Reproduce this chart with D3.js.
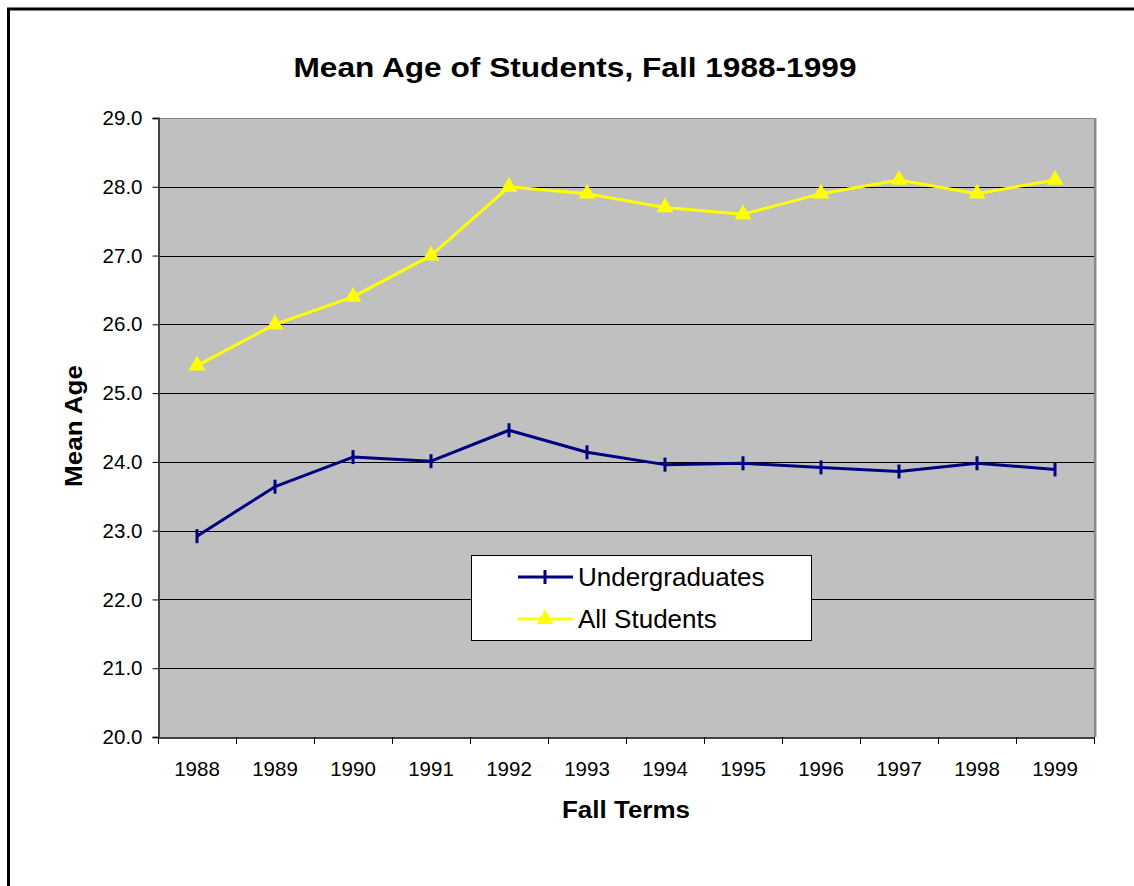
<!DOCTYPE html>
<html><head><meta charset="utf-8">
<script src="https://cdn.jsdelivr.net/npm/d3@7"></script>
<style>body{margin:0;background:#fff}svg{display:block;font-family:Arial,"Liberation Sans",sans-serif}</style>
</head><body><svg id="c" width="1134" height="886"></svg>
<script>
const years = ["1988","1989","1990","1991","1992","1993","1994","1995","1996","1997","1998","1999"];
const undergraduates = [22.92,23.64,24.07,24.01,24.46,24.14,23.96,23.98,23.92,23.86,23.98,23.89];
const allStudents = [25.4,26.0,26.4,27.0,28.0,27.9,27.7,27.6,27.9,28.1,27.9,28.1];
const yTicks = [20,21,22,23,24,25,26,27,28,29];
const seriesNames = ["Undergraduates","All Students"];

const svg = d3.select("#c");
const L=158,R=1094,T=118,B=737;
const x = d3.scaleBand().domain(years).range([L,R]).padding(0);
const y = d3.scaleLinear().domain([20,29]).range([B,T]);
const cx = d => x(d)+x.bandwidth()/2;

// outer border
svg.append("rect").attr("x",8.5).attr("y",9).attr("width",1200).attr("height",1000)
  .attr("fill","none").attr("stroke","#000").attr("stroke-width",3);

// plot area
svg.append("rect").attr("x",L).attr("y",T).attr("width",R-L).attr("height",B-T).attr("fill","#c0c0c0");
// gridlines
svg.append("g").selectAll("line").data(yTicks.slice(1,-1)).join("line")
  .attr("x1",L).attr("x2",R).attr("y1",d=>Math.round(y(d))+0.5).attr("y2",d=>Math.round(y(d))+0.5)
  .attr("stroke","#000").attr("stroke-width",1);
// plot border top/right
svg.append("path").attr("d",`M${L},${T+0.5}H${R+0.5}V${B}`).attr("fill","none").attr("stroke","#808080").attr("stroke-width",1);
svg.append("line").attr("x1",R+1.5).attr("x2",R+1.5).attr("y1",T).attr("y2",B).attr("stroke","#8c8c8c").attr("stroke-width",2);

// y axis
const yAxis = d3.axisLeft(y).tickValues(yTicks).tickFormat(d3.format(".1f")).tickSize(6).tickPadding(10);
const gy = svg.append("g").attr("transform",`translate(${L+0.5},0)`).call(yAxis);
gy.select(".domain").attr("stroke","#404040").attr("stroke-width",2);
gy.selectAll(".tick line").attr("stroke","#000");
gy.selectAll("text").attr("font-size",20.5).attr("fill","#000").attr("font-family","Arial, 'Liberation Sans', sans-serif");

// x axis
const gx = svg.append("g").attr("transform",`translate(0,${B+0.5})`).call(d3.axisBottom(x).tickSize(0).tickPadding(24));
gx.select(".domain").attr("stroke","#404040").attr("stroke-width",2);
gx.selectAll("text").attr("font-size",20.5).attr("fill","#000").attr("font-family","Arial, 'Liberation Sans', sans-serif");
// boundary ticks
const bounds = years.map(d=>x(d)).concat([R]);
svg.append("g").selectAll("line").data(bounds).join("line")
  .attr("x1",d=>Math.round(d)+0.5).attr("x2",d=>Math.round(d)+0.5).attr("y1",B).attr("y2",B+7)
  .attr("stroke","#000");

// lines
const line = d3.line().x((d,i)=>cx(years[i])).y(d=>y(d));
svg.append("path").datum(allStudents).attr("d",line).attr("fill","none").attr("stroke","#ffff00").attr("stroke-width",3).attr("stroke-linejoin","round");
svg.append("path").datum(undergraduates).attr("d",line).attr("fill","none").attr("stroke","#000080").attr("stroke-width",3).attr("stroke-linejoin","round");

const tri = d3.symbol().type(d3.symbolTriangle).size(125);
svg.append("g").selectAll("path").data(allStudents).join("path")
  .attr("d",tri).attr("transform",(d,i)=>`translate(${cx(years[i])},${y(d)})`).attr("fill","#ffff00");
svg.append("g").selectAll("line").data(undergraduates).join("line")
  .attr("x1",(d,i)=>cx(years[i])).attr("x2",(d,i)=>cx(years[i]))
  .attr("y1",d=>y(d)-7).attr("y2",d=>y(d)+7).attr("stroke","#000080").attr("stroke-width",3);

// legend
const lg = svg.append("g");
lg.append("rect").attr("x",471.5).attr("y",555.5).attr("width",340).attr("height",85).attr("fill","#fff").attr("stroke","#000").attr("stroke-width",1);
const rows=[577,619];
lg.append("line").attr("x1",518).attr("x2",573).attr("y1",rows[0]).attr("y2",rows[0]).attr("stroke","#000080").attr("stroke-width",3);
lg.append("line").attr("x1",545).attr("x2",545).attr("y1",rows[0]-7).attr("y2",rows[0]+7).attr("stroke","#000080").attr("stroke-width",3);
lg.append("line").attr("x1",518).attr("x2",573).attr("y1",rows[1]).attr("y2",rows[1]).attr("stroke","#ffff00").attr("stroke-width",3);
lg.append("path").attr("d",tri).attr("transform",`translate(545,${rows[1]})`).attr("fill","#ffff00");
lg.selectAll("text.l").data(seriesNames).join("text").attr("class","l")
  .attr("x",578).attr("y",(d,i)=>rows[i]+9).attr("font-size",26).attr("fill","#000").text(d=>d);

// titles
svg.append("text").attr("transform","translate(575,77) scale(1.13,1)").attr("text-anchor","middle")
  .attr("font-size",28).attr("font-weight","bold").text("Mean Age of Students, Fall 1988-1999");
svg.append("text").attr("transform","translate(626,818) scale(1.13,1)").attr("text-anchor","middle")
  .attr("font-size",23).attr("font-weight","bold").text("Fall Terms");
svg.append("text").attr("transform","translate(82,426) rotate(-90) scale(1.13,1)").attr("text-anchor","middle")
  .attr("font-size",23).attr("font-weight","bold").text("Mean Age");
</script></body></html>
